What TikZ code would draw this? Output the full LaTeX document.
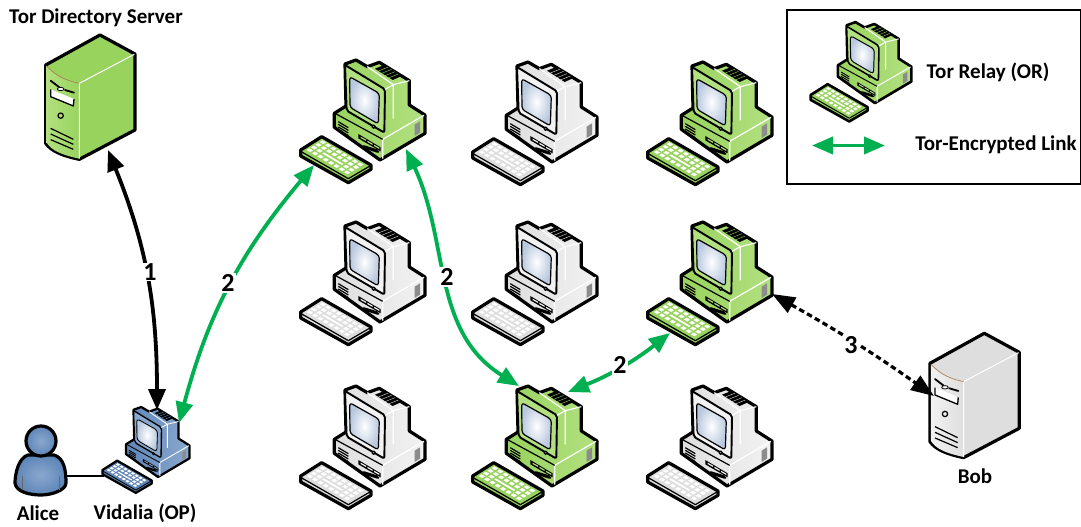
\documentclass[tikz,border=0pt]{standalone}
\usepackage{fontspec}
\setmainfont{Carlito}
\usetikzlibrary{arrows.meta}
\definecolor{arrowgreen}{HTML}{00B050}
\definecolor{rb}{HTML}{98D35E}\definecolor{rl}{HTML}{B2E080}\definecolor{rs}{HTML}{B8C8DE}
\definecolor{bb}{HTML}{5F86B8}\definecolor{bl}{HTML}{8AA8CE}\definecolor{bs}{HTML}{B8C8DE}
\definecolor{gb}{HTML}{DEDEDE}\definecolor{gl}{HTML}{F2F2F2}\definecolor{gs}{HTML}{B8C8DE}
\tikzset{
  lab/.style={font=\bfseries\fontsize{21}{24}\selectfont,text=black,inner sep=0pt},
  num/.style={font=\bfseries\fontsize{26}{28}\selectfont,text=black,fill=white,inner sep=1pt},
  link/.style={line width=3.8pt,arrowgreen,{Triangle[length=21pt,width=17pt]}-{Triangle[length=21pt,width=17pt]}},
  dirlink/.style={line width=3.8pt,black,{Triangle[length=21pt,width=17pt]}-{Triangle[length=21pt,width=17pt]}},
  dashlink/.style={line width=3.2pt,black,dash pattern=on 5.5pt off 3.5pt,{Triangle[length=23pt,width=17pt]}-{Triangle[length=23pt,width=17pt]}},
}
\newcommand{\keycap}[4]{\fill[white] (#1,#2)--(#3,#2)--(#3,#4)--(#1,#4)--cycle;}
% computer: name, x, y, scale, body, light, screen edge
\newcommand{\computer}[7]{%
\begin{scope}[shift={(#2,#3)},scale=#4/3,line join=round]
  \pgfmathsetlengthmacro{\ow}{3.2pt*#4}
  \pgfmathsetlengthmacro{\tw}{1.2pt*#4}
  \coordinate (#1) at (270,200);
  % main silhouette
  \path[left color=#5,right color=#6,draw=black,line width=\ow]
    (165,42)--(198,30)--(232,50)--(268,37)--(358,92)--(358,165)--(405,195)--(405,250)
    --(270,330)--(133,232)--(133,190)--(168,168)--cycle;
  % base top and front edges
  \draw[white,line width=\tw] (278,268)--(402,196) (278,268)--(278,326);
  \draw[black,line width=\tw] (135,190)--(278,268);
  % base vent, drive, slot
  \foreach \k in {0,1,2,3}
    \draw[black,line width=\tw] (145,215+\k*8)--(175,233+\k*8);
  \fill[black] (205,252)--(272,292)--(272,304)--(205,265)--cycle;
  \foreach \k in {0,1,2}
    \fill[#6] (212+\k*20,260+\k*12)--(228+\k*20,269+\k*12)--(228+\k*20,273+\k*12)--(212+\k*20,264+\k*12)--cycle;
  \fill[black,rounded corners=2pt] (217,284)--(268,300)--(268,310)--(217,294)--cycle;
  \fill[gray!90] (374,224)--(390,214)--(390,248)--(374,258)--cycle;
  % monitor side
  \draw[white,line width=\tw] (285,118)--(310,104)--(358,92) (232,50)--(310,104)--(310,205);
  % top vent
  \fill[black] (255,56)--(285,44)--(335,78)--(308,90)--cycle;
  \foreach \k in {1,2,3,4}
    \draw[#5,line width=.4pt] (255+\k*10,56+\k*7)--(285+\k*10,44+\k*7);
  % monitor face
  \path[fill=#6,draw=black,line width=\tw*1.6,rounded corners=2pt]
    (165,45)--(285,118)--(283,248)--(170,182)--cycle;
  \path[shade,inner color=white,outer color=#7,draw=black,line width=\tw,rounded corners=3pt]
    (179,80)--(268,130)--(265,222)--(180,172)--cycle;
  \draw[black,line width=\tw,fill=#6] (251,230) circle (5);
  % keyboard
  \path[fill=#5,draw=black,line width=\ow]
    (32,300)--(95,260)--(243,345)--(243,358)--(175,398)--(32,318)--cycle;
  \draw[black,line width=\tw] (32,304)--(175,386)--(243,346);
  \begin{scope}[shift={(45,300)},x={(16pt,-9.5pt)},y={(13pt,8pt)}]
    \foreach \i in {0,...,7}\foreach \j in {0,2,3}{\keycap{\i+.17}{\j+.17}{\i+.83}{\j+.83}}
    \foreach \i in {0,1,6,7}{\keycap{\i+.17}{1.17}{\i+.83}{1.83}}
    \keycap{2.17}{1.3}{5.83}{1.7}
  \end{scope}
\end{scope}}
% server: name, x, y, side colour, front colour
\newcommand{\tower}[5]{%
\begin{scope}[shift={(#2,#3)},scale=1/3,line join=round]
  \coordinate (#1) at (210,200);
  \path[fill=#4,draw=black,line width=3.2pt]
    (77,105)--(240,15)--(345,72)--(345,300)--(178,388)
    .. controls (130,378) and (95,365) .. (77,340)--cycle;
  \path[left color=#5,right color=#4] (80,108) .. controls (110,140) and (140,152) .. (178,160)
    --(178,386) .. controls (130,376) and (95,363) .. (80,338)--cycle;
  \draw[white,line width=1pt] (178,160)--(343,73) (178,160)--(178,386);
  \draw[brown!70!gray,line width=.7pt] (80,108) .. controls (110,140) and (140,152) .. (178,160);
  \draw[black,line width=1.8pt,line cap=round] (92,152)--(118,172) (135,180)--(162,188);
  \draw[black,line width=.8pt,fill=white] (122,177) ellipse (10 and 5);
  \draw[black,line width=1.3pt,fill=white] (92,178)--(92,200)--(160,228)--(162,207);
  \draw[black,line width=1.2pt] (122,257) circle (8);
  \foreach \k in {0,1,2}
    \draw[black,line width=1.2pt] (92,295+\k*17)--(160,328+\k*15);
\end{scope}}
\begin{document}
\begin{tikzpicture}[x=1pt,y=-1pt]
\useasboundingbox (0,0) rectangle (1081,527);
\fill[white] (0,0) rectangle (1081,527);

% legend
\node[draw=black,line width=2.2pt,minimum width=294pt,minimum height=174pt,anchor=north west,inner sep=0pt] (legend) at (786,9) {};
\computer{legendrelay}{802}{14}{0.81}{rb}{rl}{rs}
\node[lab] (legendtext1) at (988,72) {Tor Relay (OR)};
\node[lab] (legendtext2) at (996,145) {Tor-Encrypted Link};
\coordinate (la) at (812,145.5);
\coordinate (lb) at (885,145.5);
\draw[link] (la)--(lb);

% computers
\computer{c11}{290}{50}{1}{rb}{rl}{rs}
\computer{c12}{462}{52}{1}{gb}{gl}{gs}
\computer{c13}{637}{52}{1}{rb}{rl}{rs}
\computer{c21}{290}{212}{1}{gb}{gl}{gs}
\computer{c22}{462}{212}{1}{gb}{gl}{gs}
\computer{c23}{637}{212}{1}{rb}{rl}{rs}
\computer{c31}{290}{376}{1}{gb}{gl}{gs}
\computer{c32}{462}{376}{1}{rb}{rl}{rs}
\computer{c33}{637}{376}{1}{gb}{gl}{gs}
\computer{op}{95}{400}{0.7}{bb}{bl}{bs}
\tower{dir}{20}{30}{rb}{rl}
\tower{bob}{904.3}{328.3}{gb}{gl}

% Alice
\coordinate (alicehand) at (66,476);
\coordinate (opkey) at (104,476);
\draw[black,line width=2pt] (alicehand)--(opkey);
\path[inner color=bl,outer color=bb,draw=black,line width=3.2pt,line join=round]
  (28,455) .. controls (18,458) and (15,475) .. (15,483)
  .. controls (16,492) and (30,495) .. (41,495)
  .. controls (52,495) and (66,490) .. (66,483)
  .. controls (66,470) and (64,458) .. (54,455) -- cycle;
\draw[black!60,line width=.8pt] (22,490)--(22,476) (59,490)--(59,476);
\path[inner color=bl,outer color=bb,draw=black,line width=3.2pt] (41,441) circle (15);
\node[lab] (alice) at (38,513) {Alice};
\node[lab] (vidalia) at (145,513) {Vidalia (OP)};
\node[lab] (bobl) at (975,476) {Bob};
\node[lab] (dirl) at (96,18) {Tor Directory Server};

% connectors
\coordinate (a1) at (108,150);
\coordinate (a2) at (157,410);
\coordinate (b1) at (179,423);
\coordinate (b2) at (314,165);
\coordinate (c1) at (406,149);
\coordinate (c2) at (519,386);
\coordinate (d1) at (568,392);
\coordinate (d2) at (670,333);
\coordinate (e1) at (772,294);
\coordinate (e2) at (934,396);
\draw[dirlink] (a1) to[out=-68,in=90] (a2);
\draw[link] (b1) to[out=75,in=-130] (b2);
\draw[link] (c1) to[out=-65,in=148] (c2);
\draw[link] (d1) to[bend right=8] (d2);
\draw[dashlink] (e1) to[bend left=3] (e2);
\node[num] (n1) at (150,272) {1};
\node[num] (n2) at (228,283) {2};
\node[num] (n3) at (447,277) {2};
\node[num] (n4) at (620,365) {2};
\node[num] (n5) at (851,345) {3};
\end{tikzpicture}
\end{document}
